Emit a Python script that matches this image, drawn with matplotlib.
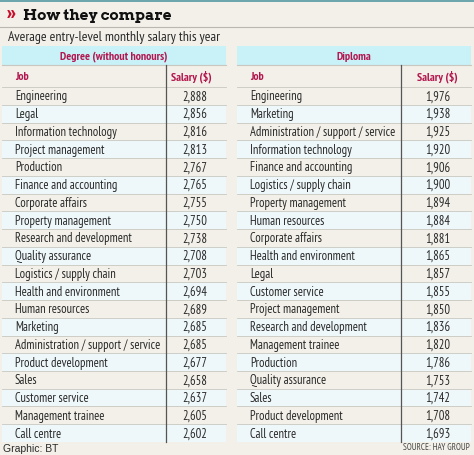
import matplotlib
matplotlib.use("Agg")
import matplotlib.pyplot as plt
from matplotlib.patches import Rectangle
from matplotlib import font_manager

# data
degree_jobs = ["Engineering", "Legal", "Information technology", "Project management",
               "Production", "Finance and accounting", "Corporate affairs",
               "Property management", "Research and development", "Quality assurance",
               "Logistics / supply chain", "Health and environment", "Human resources",
               "Marketing", "Administration / support / service", "Product development",
               "Sales", "Customer service", "Management trainee", "Call centre"]
degree_salary = [2888, 2856, 2816, 2813, 2767, 2765, 2755, 2750, 2738, 2708,
                 2703, 2694, 2689, 2685, 2685, 2677, 2658, 2637, 2605, 2602]

diploma_jobs = ["Engineering", "Marketing", "Administration / support / service",
                "Information technology", "Finance and accounting",
                "Logistics / supply chain", "Property management", "Human resources",
                "Corporate affairs", "Health and environment", "Legal",
                "Customer service", "Project management", "Research and development",
                "Management trainee", "Production", "Quality assurance", "Sales",
                "Product development", "Call centre"]
diploma_salary = [1976, 1938, 1925, 1920, 1906, 1900, 1894, 1884, 1881, 1865,
                  1857, 1855, 1850, 1836, 1820, 1786, 1753, 1742, 1708, 1693]

names = {f.name for f in font_manager.fontManager.ttflist}


def pick(*cands):
    for c in cands:
        if c in names:
            return c
    return "DejaVu Sans"


body_font = pick("PT Sans Narrow", "Roboto Condensed", "Open Sans Condensed", "Archivo Narrow")
title_font = pick("Roboto Slab", "Arvo", "Zilla Slab", "DejaVu Serif")
foot_font = pick("Liberation Sans", "DejaVu Sans")

bg = "#f2f0e8"
alt = "#eef7f9"
band = "#c9f1f8"
red = "#b3164f"
txt = "#2a2a2a"
grid = "#c8c8c0"

fig = plt.figure(figsize=(4.74, 4.56), dpi=100, facecolor=bg)
ax = fig.add_axes([0, 0, 1, 1])
ax.set_xlim(0, 474)
ax.set_ylim(456, 0)
ax.axis("off")

# top rule + title
ax.add_patch(Rectangle((0, 0), 474, 2.5, color="#6ea6ad", lw=0))
ax.text(7, 15.5, "»", color="#c8102e", fontsize=13, fontweight="bold",
        family=title_font, va="center")
ax.text(23, 16, "How they compare", color="#111111", fontsize=11, fontweight="bold",
        family=title_font, va="center")
ax.plot([0, 474], [28, 28], color="#b8b8b0", lw=0.8)
ax.text(8, 38, "Average entry-level monthly salary this year", color=txt,
        fontsize=10, family=body_font, va="center")

row_top = 88
row_h = 17.75


def draw_table(x0, x1, xdiv, xsal, xhead, title, jobs, salaries):
    ax.add_patch(Rectangle((x0, 47), x1 - x0, 19, color=band, lw=0))
    ax.text((x0 + x1) / 2, 56.5, title, color=red, fontsize=8.5, fontweight="bold",
            family=body_font, ha="center", va="center")
    ax.plot([x0, x1], [66, 66], color=grid, lw=0.8)
    ax.text(x0 + 13, 77, "Job", color=red, fontsize=8.5, fontweight="bold",
            family=body_font, va="center")
    ax.text(xhead, 77, "Salary ($)", color=red, fontsize=8.5,
            fontweight="bold", family=body_font, ha="center", va="center")
    for i, (job, sal) in enumerate(zip(jobs, salaries)):
        y = row_top + i * row_h
        if i % 2 == 1:
            ax.add_patch(Rectangle((x0, y), x1 - x0, row_h, color=alt, lw=0))
        ax.plot([x0, x1], [y, y], color=grid, lw=0.6)
        ax.text(x0 + 13, y + row_h / 2, job, color=txt, fontsize=9, family=body_font,
                va="center")
        ax.text(xsal, y + row_h / 2, f"{sal:,}", color=txt, fontsize=9,
                family=body_font, ha="center", va="center")
    ax.plot([xdiv, xdiv], [66, row_top + len(jobs) * row_h], color="#555555", lw=0.9)


draw_table(2, 226, 166, 195, 191, "Degree (without honours)", degree_jobs, degree_salary)
draw_table(237, 471, 401, 438, 437, "Diploma", diploma_jobs, diploma_salary)

ax.text(3, 449, "Graphic: BT", color=txt, fontsize=7.5, family=foot_font, va="center")
ax.text(470, 448, "SOURCE: HAY GROUP", color="#444444", fontsize=6.5, family=body_font,
        ha="right", va="center")

fig.savefig("out.png", dpi=100, facecolor=bg)
